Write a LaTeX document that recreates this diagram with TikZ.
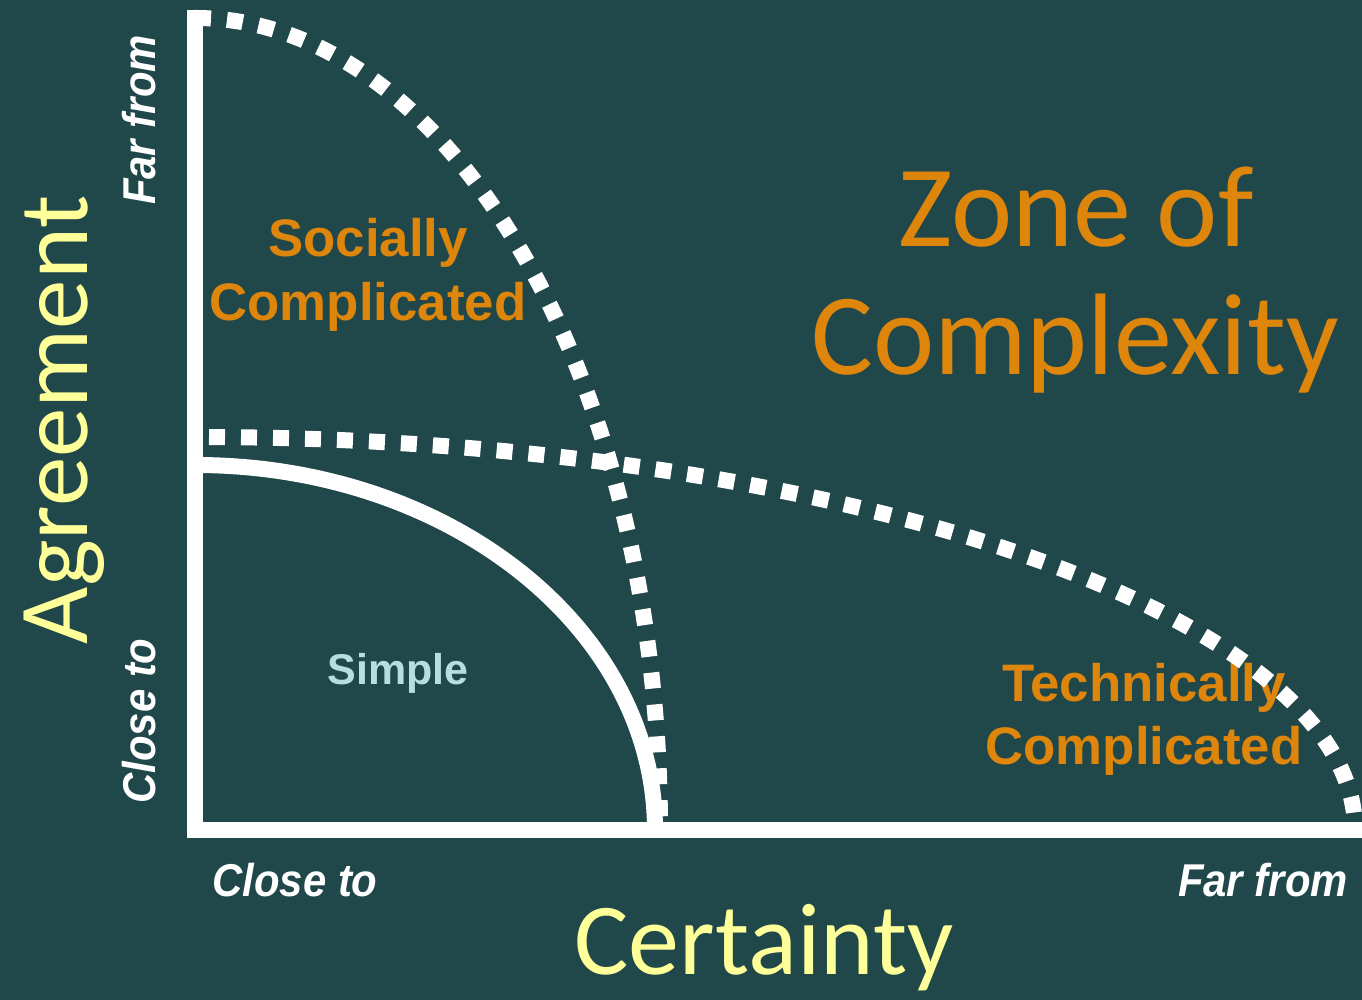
\documentclass[tikz,border=0pt]{standalone}
\usepackage{fontspec}
\setmainfont{Liberation Sans}
\newfontfamily\titlefont{Carlito}
\definecolor{bgteal}{RGB}{32,71,74}
\definecolor{labelorange}{RGB}{222,133,12}
\definecolor{axisyellow}{RGB}{255,255,153}
\definecolor{simplecyan}{RGB}{180,222,226}
\begin{document}
\begin{tikzpicture}[x=0.5pt,y=0.5pt,
  axisline/.style={white,line width=8pt},
  dotline/.style={white,line width=8pt,dash pattern=on 8pt off 8pt},
  zonelab/.style={font=\bfseries\fontsize{26.4}{32}\selectfont,text=labelorange,inner sep=0,anchor=base},
  titlelab/.style={font=\titlefont\fontsize{58}{64}\selectfont,text=labelorange,inner sep=0,anchor=base},
  axistitle/.style={font=\titlefont\fontsize{51}{60}\selectfont,text=axisyellow,inner sep=0,anchor=base},
  endlab/.style={font=\bfseries\itshape\fontsize{23}{27}\selectfont,text=white,inner sep=0,anchor=base}]
\fill[bgteal] (0,0) rectangle (1362,1000);
\useasboundingbox (0,0) rectangle (1362,1000);

% axes and simple region
\draw[axisline] (195,990) -- (195,170) -- (1362,170);
\draw[axisline] (195,535) arc[start angle=90,end angle=0,x radius=460,y radius=365];

% labels
\node[zonelab] (soc1) at (368,743) {Socially};
\node[zonelab] (soc2) at (368,679) {Complicated};
\node[zonelab] (tec1) at (1144,298) {Technically};
\node[zonelab] (tec2) at (1144,235) {Complicated};
\node[zonelab,text=simplecyan,font=\bfseries\fontsize{21.5}{26}\selectfont] (simple) at (398,315) {Simple};
\node[titlelab] (zone1) at (1076,753) {Zone of};
\node[titlelab] (zone2) at (1075,625) {Complexity};
\node[axistitle] (cert) at (764,25) {Certainty};
\node[axistitle,rotate=90,font=\titlefont\fontsize{49.5}{60}\selectfont] (agree) at (87,580) {Agreement};
\node[endlab] (xclose) at (295,103) {\scalebox{0.91}[1]{Close to}};
\node[endlab] (xfar) at (1263,103) {\scalebox{0.91}[1]{Far from}};
\node[endlab,rotate=90] (yfar) at (155,880) {\scalebox{0.91}[1]{Far from}};
\node[endlab,rotate=90] (yclose) at (155,279) {\scalebox{0.91}[1]{Close to}};

% dotted boundaries
\draw[dotline] (195,982) arc[start angle=90,end angle=0,x radius=465,y radius=812];
\draw[dotline,dash phase=9pt] (195,563) arc[start angle=90,end angle=0,x radius=1160,y radius=393];
\end{tikzpicture}
\end{document}
